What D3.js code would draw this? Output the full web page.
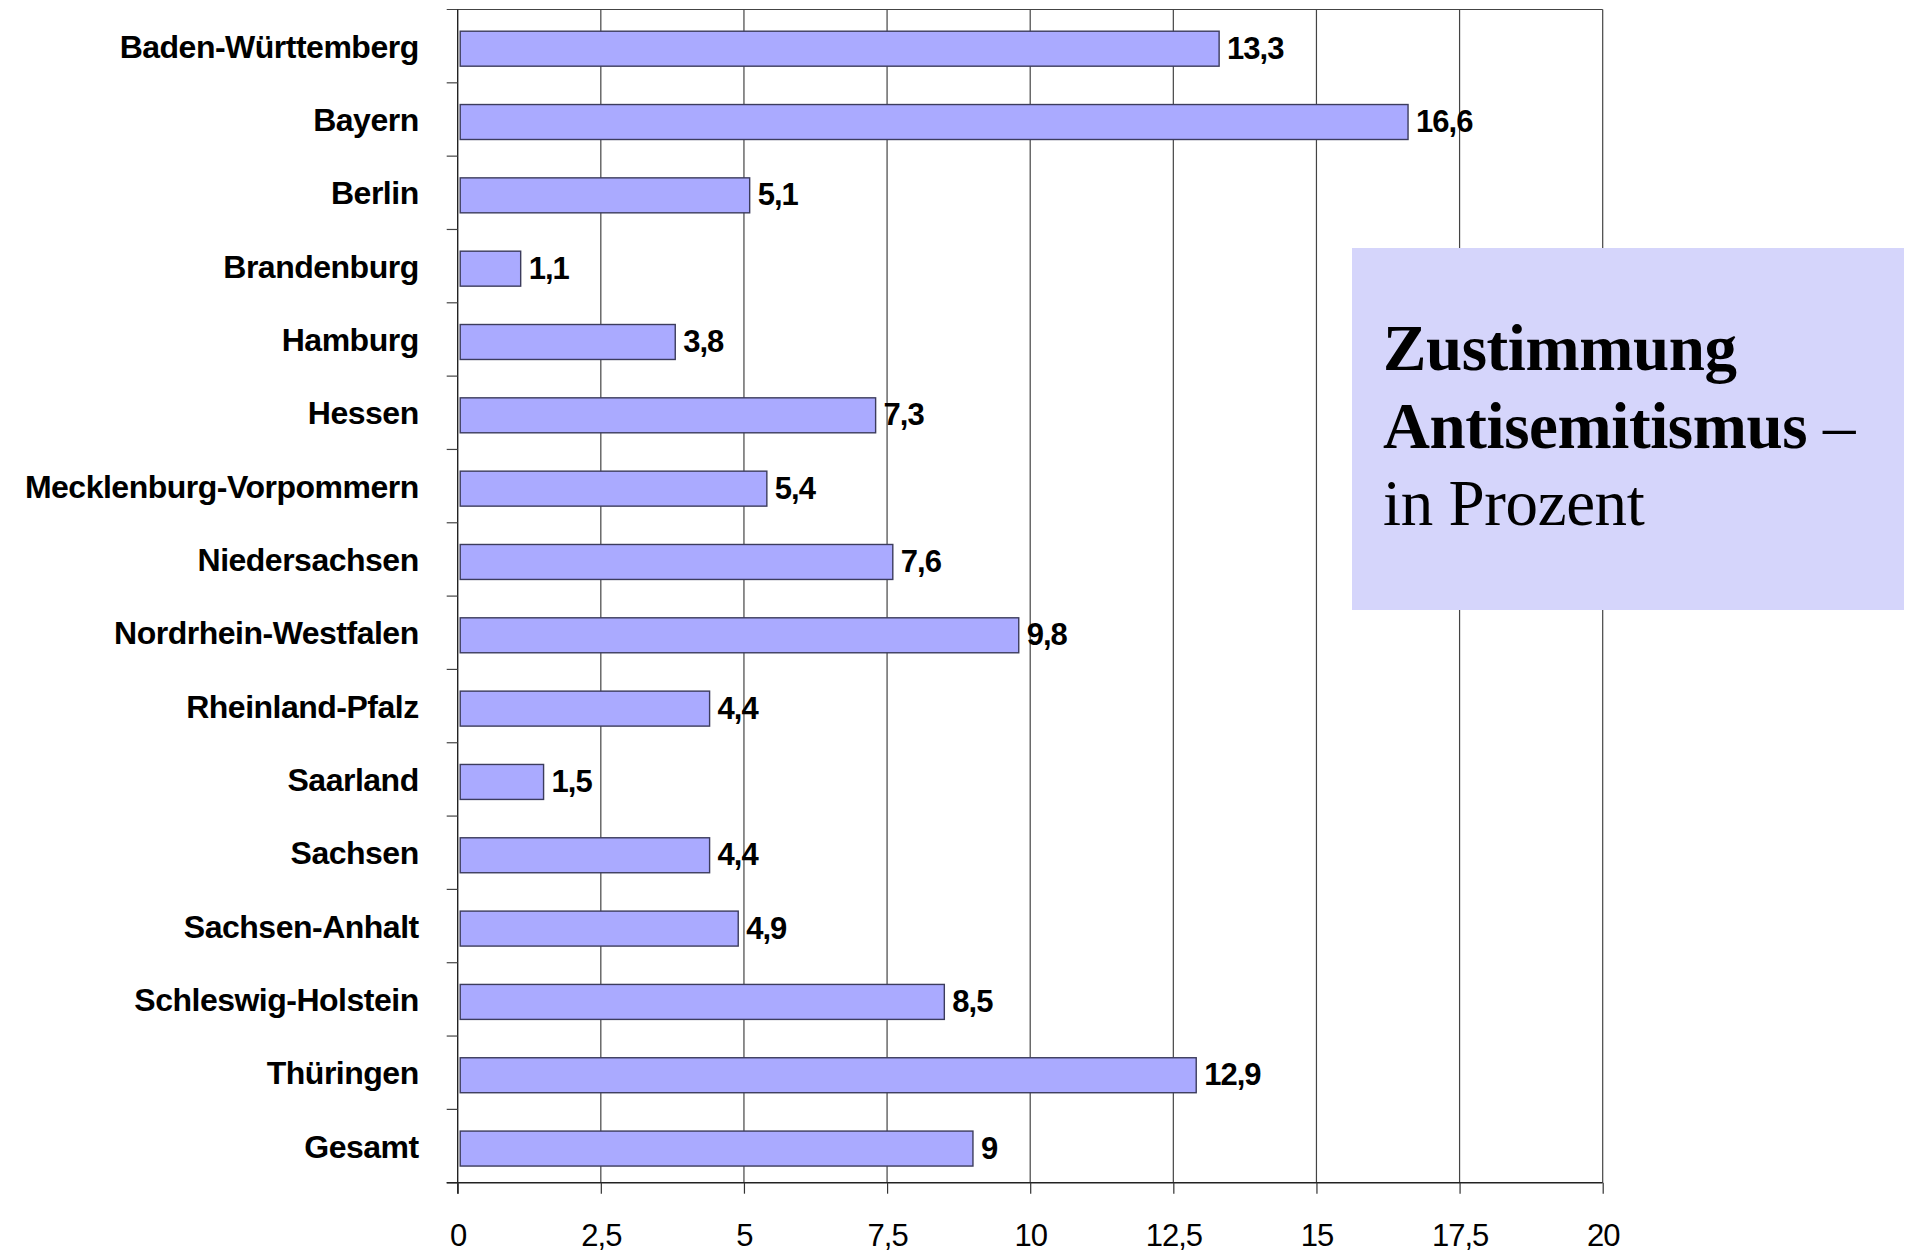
<!DOCTYPE html>
<html>
<head>
<meta charset="utf-8">
<script src="https://cdn.jsdelivr.net/npm/d3@7"></script>
<style>
  body { margin: 0; background: #fff; }
  svg { display: block; }
</style>
</head>
<body>
<svg width="1907" height="1255"></svg>
<script>
(function () {
    // Données
    var laender = ["Baden-Württemberg", "Bayern", "Berlin", "Brandenburg", "Hamburg", "Hessen",
        "Mecklenburg-Vorpommern", "Niedersachsen", "Nordrhein-Westfalen", "Rheinland-Pfalz",
        "Saarland", "Sachsen", "Sachsen-Anhalt", "Schleswig-Holstein", "Thüringen", "Gesamt"];
    var werte = [13.3, 16.6, 5.1, 1.1, 3.8, 7.3, 5.4, 7.6, 9.8, 4.4, 1.5, 4.4, 4.9, 8.5, 12.9, 9];
    var ticksX = [0, 2.5, 5, 7.5, 10, 12.5, 15, 17.5, 20];
    var titelZeilen = [
        [{t: "Zustimmung", b: true}],
        [{t: "Antisemitismus", b: true}, {t: " –", b: false}],
        [{t: "in Prozent", b: false}]
    ];

    var svg = d3.select("svg");
    var margin = {top: 9.5, left: 457.7, right: 304.3, bottom: 72.3},
        width = 1907 - margin.left - margin.right,
        height = 1255 - margin.top - margin.bottom;

    var g = svg.append("g")
        .attr("transform", "translate(" + margin.left + "," + margin.top + ")");

    var x = d3.scaleLinear().domain([0, 20]).range([0, width]);
    var y = d3.scaleBand().domain(laender).range([0, height]);
    var fmt = function (v) { return String(v).replace(".", ","); };

    // Gitterlinien
    g.selectAll(".grid")
        .data(ticksX.slice(1))
        .enter().append("line")
        .attr("x1", d => x(d)).attr("x2", d => x(d))
        .attr("y1", 0).attr("y2", height)
        .attr("stroke", "#444").attr("stroke-width", 1.2);

    // Rahmen oben
    g.append("line")
        .attr("x1", -11).attr("x2", width)
        .attr("y1", 0).attr("y2", 0)
        .attr("stroke", "#444").attr("stroke-width", 1.2);

    // Balken
    var barH = y.bandwidth() * 0.477;
    var barOff = y.bandwidth() * 0.296;
    var inset = 2.5;
    var zeilen = g.selectAll(".zeile")
        .data(laender.map((l, i) => ({land: l, wert: werte[i]})))
        .enter().append("g");

    zeilen.append("rect")
        .attr("x", x(0) + inset)
        .attr("y", d => y(d.land) + barOff)
        .attr("width", d => x(d.wert) - x(0) - inset)
        .attr("height", barH)
        .attr("fill", "#AAAAFF")
        .attr("stroke", "#3c3c5c")
        .attr("stroke-width", 1.4);

    zeilen.append("text")
        .attr("x", d => x(d.wert) + 8)
        .attr("y", d => y(d.land) + barOff + barH / 2 + 10)
        .attr("font-family", "Liberation Sans, Arial, sans-serif")
        .attr("font-weight", "bold")
        .attr("font-size", 31)
        .attr("letter-spacing", -1)
        .attr("fill", "#000")
        .text(d => fmt(d.wert));

    // Kategorie-Beschriftungen
    zeilen.append("text")
        .attr("x", -39)
        .attr("y", d => y(d.land) + barOff + barH / 2 + 9)
        .attr("text-anchor", "end")
        .attr("font-family", "Liberation Sans, Arial, sans-serif")
        .attr("font-weight", "bold")
        .attr("font-size", 32)
        .attr("letter-spacing", -0.5)
        .attr("fill", "#000")
        .text(d => d.land);

    // Y-Achse
    var achseY = g.append("g");
    achseY.append("line")
        .attr("x1", 0).attr("x2", 0).attr("y1", 0).attr("y2", height + 11)
        .attr("stroke", "#222").attr("stroke-width", 1.4);
    achseY.selectAll(".tick")
        .data(laender.slice(1).concat([null]))
        .enter().append("line")
        .attr("x1", -11).attr("x2", 0)
        .attr("y1", (d, i) => y.step() * (i + 1))
        .attr("y2", (d, i) => y.step() * (i + 1))
        .attr("stroke", "#444").attr("stroke-width", 1.2);

    // X-Achse
    var achseX = g.append("g")
        .attr("transform", "translate(0," + height + ")")
        .call(d3.axisBottom(x).tickValues(ticksX).tickSize(11).tickPadding(30).tickFormat(fmt));
    achseX.select(".domain").attr("stroke", "#222").attr("stroke-width", 1.4)
        .attr("d", "M-11,0H" + width);
    achseX.selectAll(".tick line").attr("stroke", "#333").attr("stroke-width", 1.2);
    achseX.selectAll(".tick text")
        .attr("font-family", "Liberation Sans, Arial, sans-serif")
        .attr("font-size", 31)
        .attr("letter-spacing", -1)
        .attr("fill", "#000");

    // Titelkasten
    var kasten = svg.append("g").attr("transform", "translate(1352,248)");
    kasten.append("rect")
        .attr("width", 552).attr("height", 362)
        .attr("fill", "#D5D5FB");
    var titel = kasten.append("text")
        .attr("font-family", "Liberation Serif, Times New Roman, serif")
        .attr("font-size", 65)
        .attr("letter-spacing", -0.4)
        .attr("fill", "#000");
    titelZeilen.forEach(function (zeile, i) {
        zeile.forEach(function (teil, j) {
            var ts = titel.append("tspan")
                .attr("font-weight", teil.b ? "bold" : "normal")
                .attr("xml:space", "preserve")
                .text(teil.t);
            if (j === 0) ts.attr("x", 31).attr("y", 122 + i * 77.5);
        });
    });
})();
</script>
</body>
</html>
